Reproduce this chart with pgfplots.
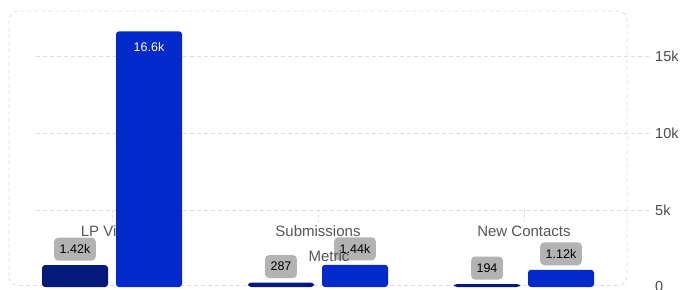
\documentclass[border=0pt]{standalone}
\usepackage{pgfplots}
\pgfplotsset{compat=1.18}
\usepackage{pgfplotstable}
\usepackage{fontspec}
\setmainfont{Liberation Sans}
\definecolor{navy}{HTML}{031A7B}
\definecolor{royal}{HTML}{0229C9}
\definecolor{gridc}{HTML}{DCDCDC}
\definecolor{boxgrey}{HTML}{B3B3B3}
\definecolor{labelc}{HTML}{555555}
\definecolor{tickc}{HTML}{4A4A4A}

% inside: 100 = label inside the bar (white text), 0 = grey box above the bar
\pgfplotstableread{
x y inside dy lab
0 1420 0 16 1.42k
1 287 0 16 287
2 194 0 16 194
}\prevtab
\pgfplotstableread{
x y inside dy lab
0 16600 100 -16 16.6k
1 1440 0 16 1.44k
2 1120 0 16 1.12k
}\currtab

\pgfplotsset{
  layers/mylayers/.define layer set={axis background,axis grid,axis ticks,axis tick labels,main,axis descriptions,axis lines,axis foreground}{},
  vlabels/.style={
    nodes near coords,
    point meta=explicit symbolic,
    visualization depends on={\thisrow{inside} \as \lin},
    visualization depends on={\thisrow{dy} \as \ldy},
    nodes near coords style={anchor=center, yshift=\ldy bp, fill=royal!\lin!boxgrey, text=white!\lin!black,
      font=\fontsize{12.5bp}{14bp}\selectfont, inner xsep=5.5bp, inner ysep=0pt,
      minimum height=23bp, rounded corners=4bp},
  },
}

\begin{document}
\begin{tikzpicture}
\begin{axis}[
  set layers=mylayers,
  scale only axis, width=618bp, height=276bp,
  xmin=-0.5, xmax=2.5, ymin=0, ymax=17922,
  axis line style={draw=none},
  clip=false,
  major tick length=0pt,
  xtick={0,1,2}, xticklabels={LP Views, Submissions, New Contacts},
  x tick label style={anchor=base, yshift=50.5bp, text=labelc, font=\fontsize{15bp}{18bp}\selectfont},
  ytick={0,5000,10000,15000}, yticklabels={0,5k,10k,15k},
  yticklabel pos=right,
  y tick label style={anchor=west, xshift=24.7bp, text=tickc, font=\fontsize{14.5bp}{17bp}\selectfont},
  scaled y ticks=false,
  xlabel={Metric},
  xlabel style={at={(axis description cs:0.5,0)}, anchor=base, yshift=25.3bp, xshift=11bp, text=labelc, font=\fontsize{15bp}{18bp}\selectfont},
  ybar=8bp, bar width=66bp,
]
% frame and grid
\draw[gridc, line width=0.8bp, dash pattern=on 4bp off 3bp, rounded corners=9bp]
  ([yshift=1.5bp]rel axis cs:0,0) rectangle (rel axis cs:1,1);
\draw[gridc, line width=0.8bp, dash pattern=on 4bp off 3bp] (axis cs:-0.369,5000) -- ([xshift=23bp]axis cs:2.5,5000);
\draw[gridc, line width=0.8bp, dash pattern=on 4bp off 3bp] (axis cs:-0.369,10000) -- ([xshift=23bp]axis cs:2.5,10000);
\draw[gridc, line width=0.8bp, dash pattern=on 4bp off 3bp] (axis cs:-0.369,15000) -- ([xshift=23bp]axis cs:2.5,15000);
\draw[gridc, line width=0.8bp, dash pattern=on 3bp off 2bp] (axis cs:0,5000) -- ([yshift=-11bp]axis cs:0,5000);
\draw[gridc, line width=0.8bp, dash pattern=on 3bp off 2bp] (axis cs:1,5000) -- ([yshift=-11bp]axis cs:1,5000);
\draw[gridc, line width=0.8bp, dash pattern=on 3bp off 2bp] (axis cs:2,5000) -- ([yshift=-11bp]axis cs:2,5000);
\addplot[fill=navy, draw=none, rounded corners=3bp, vlabels] table[x=x, y=y, meta=lab] {\prevtab};
\addplot[fill=royal, draw=none, rounded corners=3bp, vlabels] table[x=x, y=y, meta=lab] {\currtab};
\end{axis}
\pgfresetboundingbox
\useasboundingbox (-9bp,-3bp) rectangle (671bp,287bp);
\end{tikzpicture}
\end{document}
